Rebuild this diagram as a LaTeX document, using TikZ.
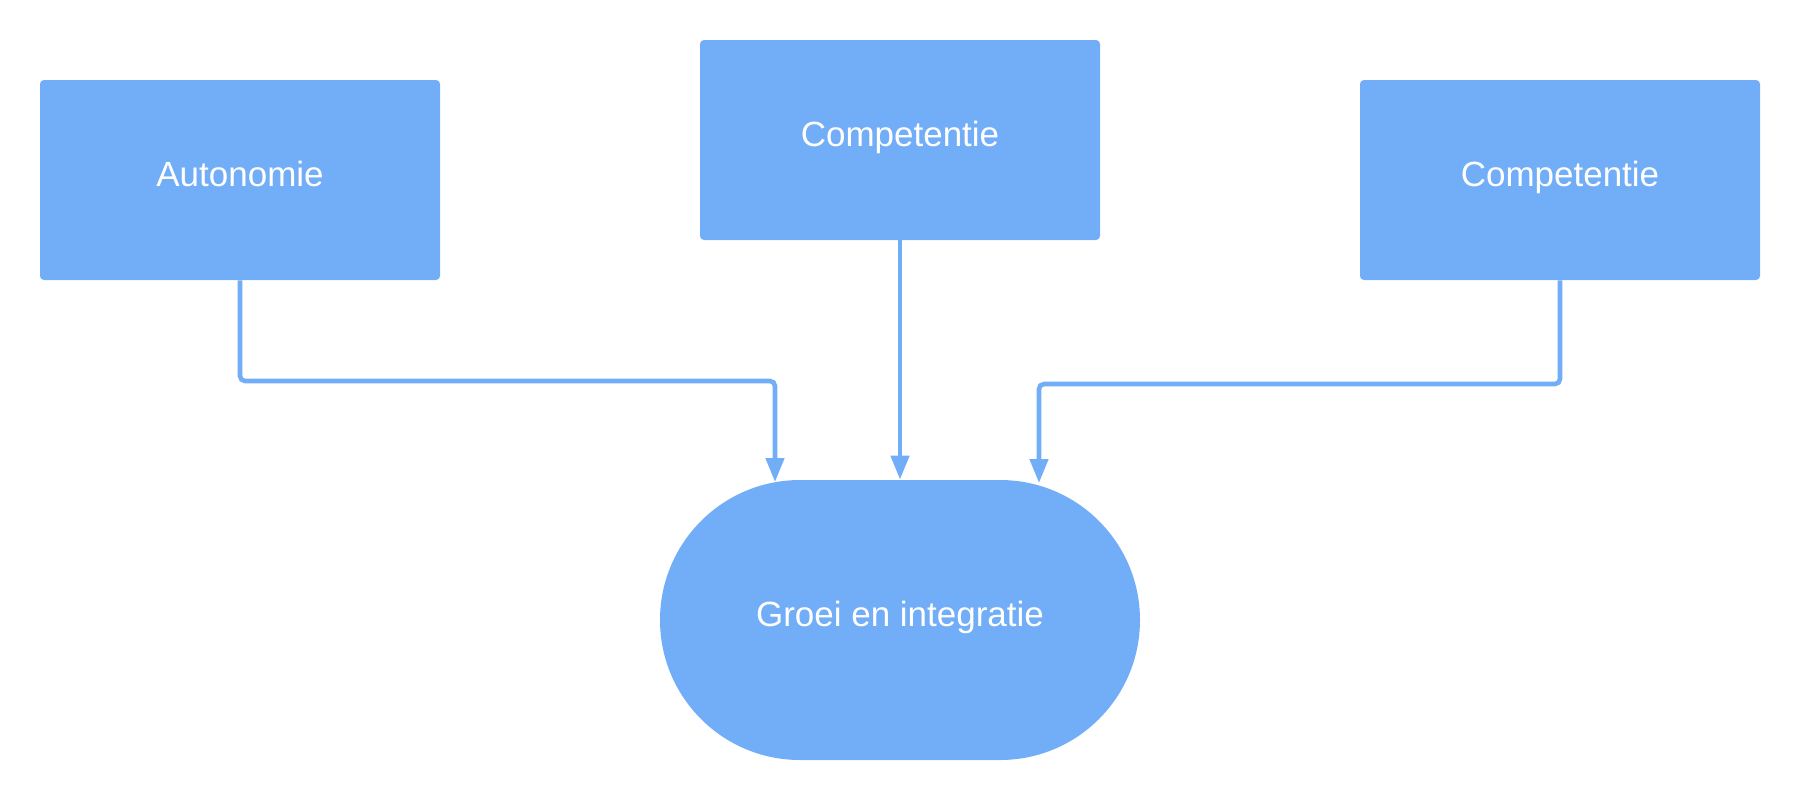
\documentclass[tikz,border=0pt]{standalone}
\usepackage{fontspec}
\setmainfont{Liberation Sans}
\usetikzlibrary{arrows.meta}
\definecolor{boxblue}{HTML}{72ADF7}
\tikzset{
  lbl/.style={text=white, font=\fontsize{17.5pt}{21pt}\selectfont, text height=13pt, text depth=7pt, inner sep=0pt},
  rectbox/.style={lbl, fill=boxblue, draw=none, rounded corners=2pt, minimum width=200pt, minimum height=100pt},
  stadium/.style={lbl, fill=boxblue, draw=none, rounded corners=70pt, minimum width=240pt, minimum height=140pt},
  conn/.style={draw=boxblue, line width=2.3pt, rounded corners=2.5pt, -{Triangle[length=12pt, width=9pt]}}
}
\begin{document}
\begin{tikzpicture}[x=0.5pt, y=-0.5pt]
  \useasboundingbox (0,0) rectangle (1800,800);
  \node[rectbox] (a) at (240,180) {Autonomie};
  \node[rectbox] (b) at (900,140) {Competentie};
  \node[rectbox] (c) at (1560,180) {Competentie};
  \node[stadium] (g) at (900,620) {Groei en integratie};
  \coordinate (j1) at (775,381);
  \coordinate (t1) at (775,482);
  \coordinate (j3) at (1039,384);
  \coordinate (t3) at (1039,483);
  \draw[conn] (a.south) -- (a.south |- j1) -- (j1) -- (t1);
  \draw[conn] (b.south) -- (g.north);
  \draw[conn] (c.south) -- (c.south |- j3) -- (j3) -- (t3);
\end{tikzpicture}
\end{document}
